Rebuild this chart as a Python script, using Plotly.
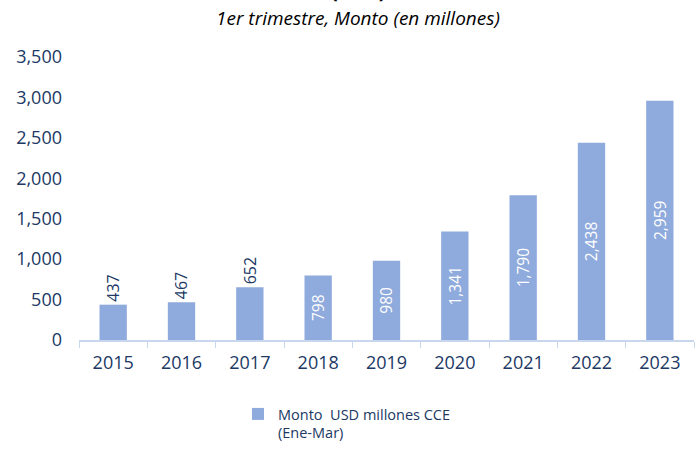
import plotly.graph_objects as go

years = ["2015", "2016", "2017", "2018", "2019", "2020", "2021", "2022", "2023"]
values = [437, 467, 652, 798, 980, 1341, 1790, 2438, 2959]
labels = ["437", "467", "652", "798", "980", "1,341", "1,790", "2,438", "2,959"]
label_pos = ["outside", "outside", "outside", "inside", "inside", "inside", "inside", "inside", "inside"]
series_name = "Monto  USD millones CCE<br>(Ene-Mar)"
subtitle = "1er trimestre, Monto (en millones)"
title_tail = "(USD)"

bar_color = "#8FAADC"
dark_blue = "#203864"
font_family = "'Open Sans', sans-serif"

L, R, T, B = 79, 6, 57, 109
W, H = 700, 449
ph = H - T - B
pw = W - L - R


def px_x(px):
    return (px - L) / pw


def px_y(py):
    return (H - B - py) / ph


fig = go.Figure()
fig.add_trace(go.Bar(
    x=years, y=values, name=series_name,
    marker=dict(color=bar_color, line=dict(width=0)),
    text=labels, textposition=label_pos, textangle=-90,
    insidetextanchor="middle",
    insidetextfont=dict(color="white", size=16, family=font_family),
    outsidetextfont=dict(color=dark_blue, size=16, family=font_family),
    cliponaxis=False,
    showlegend=True,
))

fig.update_layout(
    width=W, height=H,
    margin=dict(l=L, r=R, t=T, b=B, autoexpand=False),
    paper_bgcolor="white", plot_bgcolor="white",
    bargap=0.6,
    font=dict(family=font_family, color=dark_blue, size=16),
    showlegend=True,
    legend=dict(orientation="h", x=px_x(238), xanchor="left",
                y=px_y(398), yanchor="top", valign="top",
                font=dict(size=14.5, color=dark_blue, family=font_family),
                itemwidth=30, tracegroupgap=0),
    xaxis=dict(
        type="category", showline=True, linecolor="#C9D7EE", linewidth=1.5,
        ticks="outside", tickson="boundaries", ticklen=6, tickcolor="#C9D7EE",
        tickfont=dict(size=18, color=dark_blue), showgrid=False,
        ticklabelstandoff=6,
    ),
    yaxis=dict(
        range=[0, 3500], dtick=500, tickformat=",d", showgrid=False,
        zeroline=False, showline=False, ticks="",
        tickfont=dict(size=18, color=dark_blue), ticklabelstandoff=16,
    ),
    annotations=[
        dict(text="<i>" + subtitle + "</i>", xref="paper", yref="paper",
             x=px_x(358), y=px_y(18), xanchor="center", yanchor="middle",
             showarrow=False, font=dict(size=19, color="black", family=font_family)),
        dict(text="<b>" + title_tail + "</b>", xref="paper", yref="paper",
             x=px_x(358), y=px_y(6), xanchor="center", yanchor="bottom",
             showarrow=False, font=dict(size=20, color="black", family=font_family)),
    ],
)

fig.write_html("out.html", config={"displayModeBar": False},
               post_script="document.body.style.margin='0';")
